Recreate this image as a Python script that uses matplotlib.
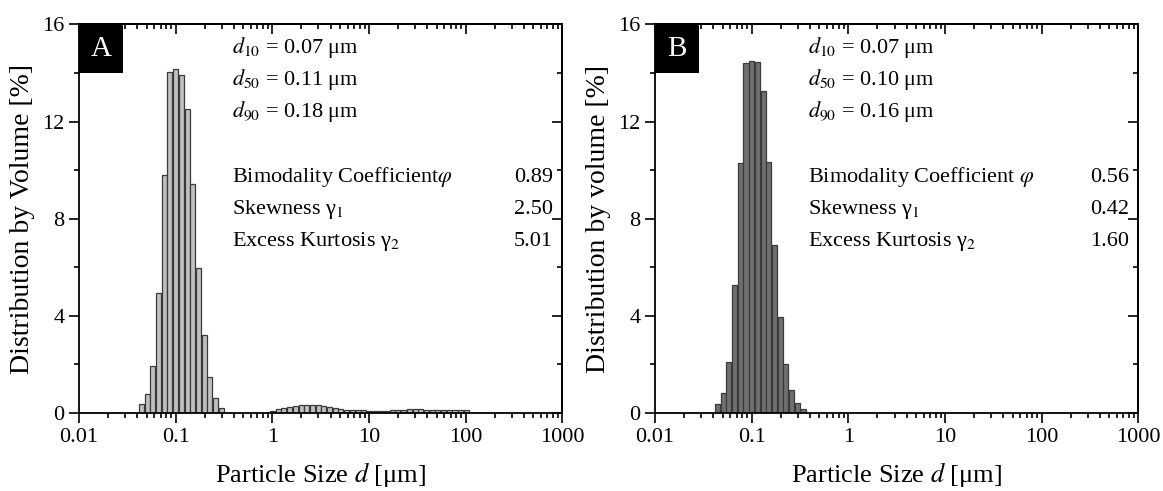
import numpy as np
import matplotlib
matplotlib.use("Agg")
import matplotlib.pyplot as plt
from matplotlib.patches import Rectangle
from matplotlib.ticker import LogLocator, FixedLocator, NullFormatter

plt.rcParams['font.family'] = ['Liberation Serif', 'DejaVu Serif']
plt.rcParams['mathtext.fontset'] = 'stix'

# size classes: log-spaced bins, ratio 1.1454 (about 17 per decade), bin 0 centred on 0.1 um
BIN_RATIO = 1.1454

# sample A: fine mode (bins -6..8) and coarse mode (bins 17..51)
a_fine_bins = np.arange(-6, 9)
a_fine_vals = [0.37, 0.78, 1.95, 4.94, 9.8, 14.06, 14.16, 13.9, 12.5,
               9.44, 5.97, 3.2, 1.5, 0.63, 0.22]
a_coarse_bins = np.arange(17, 52)
a_coarse_vals = [0.08, 0.15, 0.20, 0.25, 0.29, 0.32, 0.34, 0.34, 0.32, 0.29,
                 0.25, 0.21, 0.17, 0.14, 0.13, 0.12, 0.11, 0.10, 0.10, 0.10,
                 0.10, 0.11, 0.12, 0.14, 0.15, 0.15, 0.15, 0.14, 0.14, 0.14,
                 0.13, 0.13, 0.13, 0.13, 0.12]

# sample B: single mode (bins -6..9)
b_bins = np.arange(-6, 10)
b_vals = [0.37, 0.82, 2.1, 5.28, 10.3, 14.42, 14.5, 14.44, 13.25,
          10.34, 6.9, 3.97, 2.02, 0.95, 0.4, 0.15]

a_stats = ["$d_{10}$ = 0.07 μm", "$d_{50}$ = 0.11 μm", "$d_{90}$ = 0.18 μm"]
b_stats = ["$d_{10}$ = 0.07 μm", "$d_{50}$ = 0.10 μm", "$d_{90}$ = 0.16 μm"]
a_moments = [("Bimodality Coefficient$\\varphi$", "0.89"),
             ("Skewness γ$_1$", "2.50"),
             ("Excess Kurtosis γ$_2$", "5.01")]
b_moments = [("Bimodality Coefficient $\\varphi$", "0.56"),
             ("Skewness γ$_1$", "0.42"),
             ("Excess Kurtosis γ$_2$", "1.60")]

x_ticks = [0.01, 0.1, 1, 10, 100, 1000]
x_ticklabels = ["0.01", "0.1", "1", "10", "100", "1000"]
y_ticks = [0, 4, 8, 12, 16]


def draw_bars(ax, bins, vals, face):
    centers = 0.1 * BIN_RATIO ** np.asarray(bins, dtype=float)
    half = 0.88 * np.log10(BIN_RATIO) / 2
    left = centers * 10 ** (-half)
    width = centers * 10 ** half - left
    ax.bar(left, vals, width=width, align='edge', color=face,
           edgecolor='#3a3a3a', linewidth=0.9)


def style_axes(ax, ylabel, letter, stats, moments):
    ax.set_xscale('log')
    ax.set_xlim(0.01, 1000)
    ax.set_ylim(0, 16)
    ax.xaxis.set_major_locator(FixedLocator(x_ticks))
    ax.set_xticklabels(x_ticklabels)
    ax.xaxis.set_minor_locator(LogLocator(base=10, subs=np.arange(2, 10), numticks=20))
    ax.xaxis.set_minor_formatter(NullFormatter())
    ax.set_yticks(y_ticks)
    ax.yaxis.set_minor_locator(FixedLocator(np.arange(2, 16, 4)))
    for s in ax.spines.values():
        s.set_linewidth(1.3)
    ax.tick_params(which='both', labelsize=16, width=1.2)
    ax.tick_params(which='major', length=7)
    ax.tick_params(which='minor', length=3.5)
    ax.tick_params(axis='both', which='both', direction='out', top=False, right=False)
    ax.set_xlabel("Particle Size $d$ [μm]", fontsize=19, labelpad=10)
    ax.set_ylabel(ylabel, fontsize=20, labelpad=5)

    # mirrored inward ticks on top and right
    top = ax.secondary_xaxis('top')
    top.set_xscale('log')
    top.xaxis.set_major_locator(FixedLocator(x_ticks))
    top.xaxis.set_minor_locator(LogLocator(base=10, subs=np.arange(2, 10), numticks=20))
    top.tick_params(which='both', direction='in', labeltop=False, width=1.2)
    top.tick_params(which='major', length=7)
    top.tick_params(which='minor', length=3.5)
    top.spines['top'].set_linewidth(1.3)
    right = ax.secondary_yaxis('right')
    right.set_yticks(y_ticks)
    right.yaxis.set_minor_locator(FixedLocator(np.arange(2, 16, 4)))
    right.tick_params(which='both', direction='in', labelright=False, width=1.2)
    right.tick_params(which='major', length=7)
    right.tick_params(which='minor', length=3.5)
    right.spines['right'].set_linewidth(1.3)

    ax.add_patch(Rectangle((0, 0.875), 0.091, 0.125, transform=ax.transAxes,
                           facecolor='black', edgecolor='none', zorder=5))
    ax.text(0.0455, 0.9375, letter, transform=ax.transAxes, color='white',
            fontsize=21, ha='center', va='center', zorder=6)

    for i, s in enumerate(stats):
        ax.text(0.316, 0.927 - i * 0.082, s, transform=ax.transAxes,
                fontsize=16, ha='left', va='baseline')
    for i, (name, val) in enumerate(moments):
        y = 0.595 - i * 0.082
        ax.text(0.316, y, name, transform=ax.transAxes, fontsize=16,
                ha='left', va='baseline')
        ax.text(0.98, y, val, transform=ax.transAxes, fontsize=16,
                ha='right', va='baseline')


fig = plt.figure(figsize=(11.63, 4.91), dpi=100)
ax_a = fig.add_axes([0.0679, 0.1589, 0.4157, 0.7913])
ax_b = fig.add_axes([0.5632, 0.1589, 0.4157, 0.7913])

draw_bars(ax_a, a_fine_bins, a_fine_vals, '#c0c0c0')
draw_bars(ax_a, a_coarse_bins, a_coarse_vals, '#c0c0c0')
draw_bars(ax_b, b_bins, b_vals, '#707070')

style_axes(ax_a, "Distribution by Volume [%]", "A", a_stats, a_moments)
style_axes(ax_b, "Distribution by volume [%]", "B", b_stats, b_moments)

fig.savefig("out.png", dpi=100)
